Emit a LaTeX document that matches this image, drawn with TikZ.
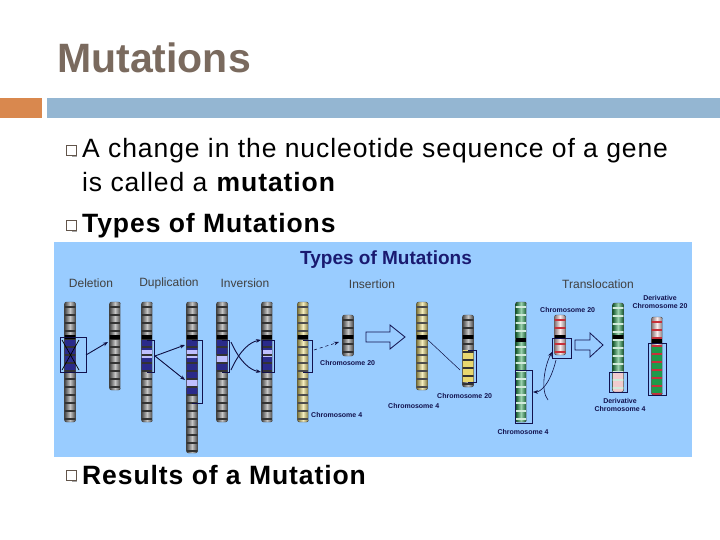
\documentclass[tikz,border=0pt]{standalone}
\usepackage{fontspec}
\setmainfont{Liberation Sans}
\newfontfamily\bodyfont[LetterSpace=3.5]{Liberation Sans}
\usetikzlibrary{arrows.meta}
\definecolor{titlec}{HTML}{7A6A5E}
\definecolor{orangebar}{HTML}{D9884E}
\definecolor{bluebar}{HTML}{94B6D2}
\definecolor{figbg}{HTML}{99CCFF}
\definecolor{navy}{HTML}{1A1A70}
\definecolor{chrblue}{HTML}{2A2A8A}
\definecolor{chyel}{HTML}{E8D870}
\definecolor{chgrn}{HTML}{1E9A4A}
\definecolor{chred}{HTML}{C8303A}
\newcommand\chrom[7]{%
\begin{scope}
\clip[rounded corners=2pt] (#1-5.5,#2) rectangle (#1+5.5,#3);
\fill[left color=#5!55!black, right color=#5!55!black, middle color=#5!45!white] (#1-5.5,#2) rectangle (#1+5.5,#3);
#7
\foreach \yy in {4,12,...,200} \fill[#6] (#1-6,#2+\yy) rectangle (#1+6,#2+\yy+2.2);
\fill[black] (#1-6,#4-2) rectangle (#1+6,#4+2);
\end{scope}
\draw[black!70,rounded corners=2pt,line width=0.4pt] (#1-5.5,#2) rectangle (#1+5.5,#3);}
\newcommand\seg[4]{\fill[#4] (#1-6,#2) rectangle (#1+6,#3);}
\tikzset{
 body/.style={anchor=base west,font=\bodyfont\fontsize{26.5}{30}\selectfont,inner sep=0},
 bul/.style={draw=titlec!80!black,line width=0.7pt,minimum size=10pt,inner sep=0,fill=white},
 lab/.style={font=\fontsize{12}{13}\selectfont,text=black!75,inner sep=0},
 small/.style={font=\bfseries\fontsize{7}{8}\selectfont,text=navy!70!black,inner sep=0,align=center},
 arr/.style={-{Stealth[length=5pt]},line width=0.9pt,navy!60!black},
 bx/.style={draw=navy!70!black,line width=0.6pt},
 hollow/.style={draw=navy!70!black,line width=0.8pt,fill=figbg}
}
\begin{document}
\begin{tikzpicture}[x=1pt,y=-1pt]
\useasboundingbox (0,0) rectangle (720,540);
\fill[white] (0,0) rectangle (720,540);
\node[anchor=base west,font=\bfseries\fontsize{41}{44}\selectfont,text=titlec,inner sep=0] (title) at (57,73) {Mutations};
\fill[orangebar] (0,98) rectangle (42,118);
\fill[bluebar] (47,98) rectangle (720,118);
\fill[black!35] (72,152) rectangle (77,157);
\node[bul] (b1) at (71,150) {};
\fill[black!35] (72,227) rectangle (77,232);
\node[bul] (b2) at (71,225) {};
\fill[black!35] (72,477) rectangle (77,482);
\node[bul] (b3) at (71,475) {};
\node[body] (t1) at (82,158) {A change in the nucleotide sequence of a gene};
\node[body] (t2) at (82,192) {is called a \textbf{mutation}};
\node[body] (t3) at (82,233) {\textbf{Types of Mutations}};
\node[body] (t4) at (82,484) {\textbf{Results of a Mutation}};
% figure
\fill[figbg] (54,242) rectangle (692,457);
\node[font=\bfseries\fontsize{19}{20}\selectfont,text=navy,inner sep=0] (ft) at (386,260) {Types of Mutations};
\node[lab] (l1) at (91,283) {Deletion};
\node[lab] (l2) at (169,283) {Duplication};
\node[lab] (l3) at (245,283) {Inversion};
\node[lab] (l4) at (372,284) {Insertion};
\node[lab] (l5) at (598,284) {Translocation};
% deletion
\chrom{70}{302}{422}{337}{gray}{black!80}{\seg{70}{340}{370}{chrblue}}
\draw[line width=0.7pt] (62,340) -- (79,370) (79,340) -- (62,370);
\draw[bx] (60,337) rectangle (86,372);
\chrom{115}{302}{390}{337}{gray}{black!80}{}
\draw[arr] (86,355) -- (108,342);
% duplication
\chrom{147}{302}{422}{337}{gray}{black!80}{\seg{147}{340}{372}{chrblue}\seg{147}{350}{358}{blue!25}}
\draw[bx] (147,340) -| (154,372) -- (147,372);
\draw[arr] (155,356) -- (185,345);
\draw[arr] (155,356) -- (185,380);
\chrom{192}{302}{453}{337}{gray}{black!80}{\seg{192}{340}{395}{chrblue}\seg{192}{350}{358}{blue!25}\seg{192}{380}{388}{blue!25}}
\draw[bx] (192,340) -| (202,403) -- (192,403);
% inversion
\chrom{222}{302}{422}{337}{gray}{black!80}{\seg{222}{340}{372}{chrblue}\seg{222}{355}{362}{blue!25}}
\draw[bx] (222,340) -| (229,372) -- (222,372);
\draw[arr] (231,370) .. controls (240,350) and (250,342) .. (261,340);
\draw[arr] (231,342) .. controls (240,362) and (250,370) .. (261,372);
\chrom{267}{302}{422}{337}{gray}{black!80}{\seg{267}{340}{372}{chrblue}\seg{267}{350}{357}{blue!25}}
\draw[bx] (262,340) rectangle (274,372);
% insertion
\chrom{303}{302}{422}{337}{chyel}{black!70}{}
\draw[bx] (303,340) -| (312,372) -- (303,372);
\draw[arr,dashed,line width=0.6pt] (314,350) -- (339,342);
\chrom{348}{315}{356}{337}{gray}{black!80}{}
\node[small,anchor=west] (c20a) at (320,363) {Chromosome 20};
\node[small,anchor=west] (c4a) at (311,415) {Chromosome 4};
\draw[hollow] (366,332) -- (390,332) -- (390,325) -- (405,337) -- (390,349) -- (390,342) -- (366,342) -- cycle;
\chrom{422}{302}{390}{337}{chyel}{black!70}{}
\draw[line width=0.5pt,navy!60!black] (428,340) -- (460,370);
\chrom{468}{315}{387}{337}{gray}{black!80}{\seg{468}{350}{382}{chyel}}
\draw[bx] (468,350) -| (476,382) -- (468,382);
\node[small,anchor=west] (c20b) at (437,396) {Chromosome 20};
\node[small,anchor=west] (c4b) at (388,406) {Chromosome 4};
% translocation
\chrom{521}{302}{422}{340}{chgrn}{white!80!chgrn}{}
\draw[bx] (515,370) rectangle (532,423);
\chrom{560}{315}{355}{337}{white!80!chred}{chred}{}
\draw[bx] (552,338) rectangle (571,358);
\draw[arr,line width=0.6pt] (556,360) .. controls (550,385) and (540,392) .. (533,392);
\draw[arr,line width=0.6pt] (548,400) .. controls (540,390) and (545,365) .. (552,352);
\node[small,anchor=west] (c20c) at (540,310) {Chromosome 20};
\node[small] (c4c) at (523,432) {Chromosome 4};
\draw[hollow] (575,340) -- (590,340) -- (590,333) -- (603,345) -- (590,357) -- (590,350) -- (575,350) -- cycle;
\chrom{618}{303}{392}{337}{chgrn}{white!80!chgrn}{\seg{618}{372}{392}{white!75!chred}}
\draw[bx] (609,372) rectangle (627,392);
\chrom{657}{317}{395}{341}{white!80!chred}{chred}{\seg{657}{345}{395}{chgrn}}
\draw[bx] (648,343) rectangle (666,395);
\node[small] (d20) at (660,302) {Derivative\\Chromosome 20};
\node[small] (d4) at (620,405) {Derivative\\Chromosome 4};
\end{tikzpicture}
\end{document}
